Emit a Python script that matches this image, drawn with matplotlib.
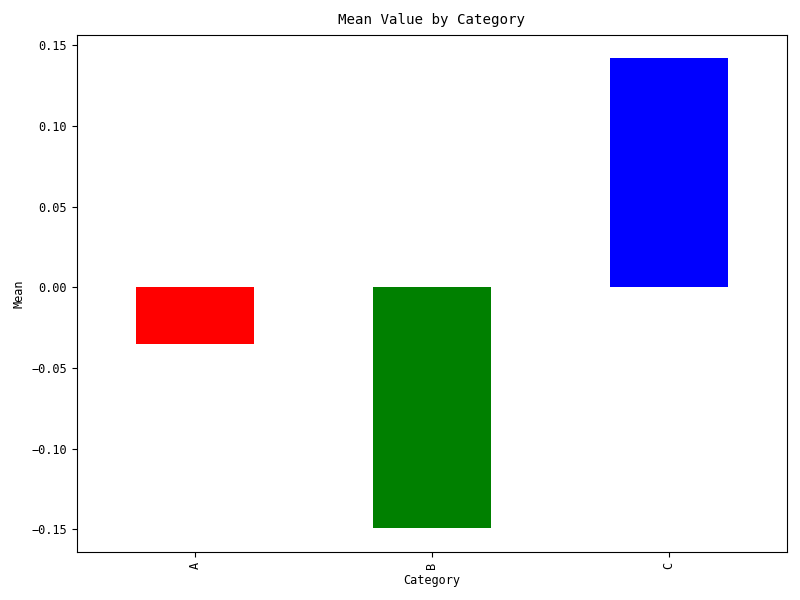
import pandas as pd
import matplotlib
matplotlib.use('Agg')
import matplotlib.pyplot as plt

# SimHei-like look: narrow monospace latin glyphs
plt.rcParams['font.family'] = ['DejaVu Sans Mono', 'Noto Sans CJK SC']
plt.rcParams['font.size'] = 8.6

categories = ['A', 'B', 'C']
mean_values = [-0.035, -0.1494, 0.1419]
bar_colors = ['red', 'green', 'blue']

s = pd.Series(mean_values, index=categories)

fig, ax = plt.subplots(figsize=(8, 6), dpi=100)
s.plot(kind='bar', color=bar_colors, ax=ax)
ax.set_title('Mean Value by Category', fontsize=10.2, pad=8)
ax.set_xlabel('Category')
ax.set_ylabel('Mean')
plt.tight_layout()
plt.savefig('out.png')
